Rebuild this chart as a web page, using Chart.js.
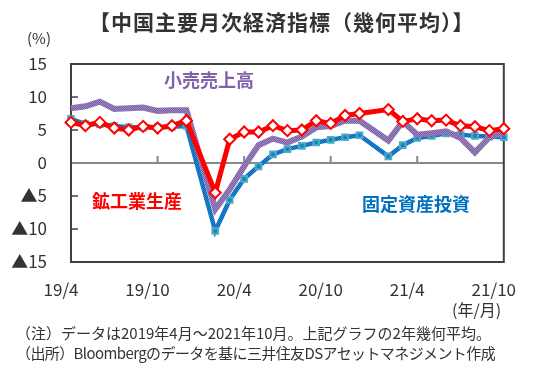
<!DOCTYPE html>
<html><head><meta charset="utf-8">
<script src="https://cdn.jsdelivr.net/npm/chart.js@4/dist/chart.umd.min.js"></script>
<style>
html,body{margin:0;padding:0;background:#fff;}
#wrap{position:relative;width:543px;height:378px;overflow:hidden;font-family:"Noto Sans CJK JP","Noto Sans",sans-serif;color:#333;}
canvas{position:absolute;left:0;top:0;}
.t{position:absolute;white-space:nowrap;line-height:1;}
</style></head><body>
<div id="wrap">
<canvas id="c" width="543" height="378"></canvas>
<div class="t" style="left:89px;top:11px;font-size:21px;letter-spacing:1px;font-weight:bold;color:#333;">【中国主要月次経済指標（幾何平均）】</div>
<div class="t" style="left:27px;top:30px;font-size:15px;">(%)</div>
<div class="t" style="left:164px;top:70px;font-size:18px;font-weight:bold;color:#7F62A8;">小売売上高</div>
<div class="t" style="left:92px;top:191px;font-size:18px;font-weight:bold;color:#FF0000;">鉱工業生産</div>
<div class="t" style="left:362px;top:194px;font-size:18px;font-weight:bold;color:#0070C0;">固定資産投資</div>
<div class="t" style="left:452px;top:301px;font-size:16px;">(年/月)</div>
<div class="t" style="left:16px;top:325px;font-size:15px;">（注）データは2019年4月～2021年10月。上記グラフの2年幾何平均。</div>
<div class="t" style="left:16px;top:345px;font-size:15px;letter-spacing:-0.6px;">（出所）Bloombergのデータを基に三井住友DSアセットマネジメント作成</div>
</div>
<script>
const categories = ["19/4","19/5","19/6","19/7","19/8","19/9","19/10","19/11","19/12",
  "20/1","20/2","20/3","20/4","20/5","20/6","20/7","20/8","20/9","20/10","20/11","20/12",
  "21/1","21/2","21/3","21/4","21/5","21/6","21/7","21/8","21/9","21/10"];
const tickLabels = ["19/4","19/10","20/4","20/10","21/4","21/10"];
const industrialProduction = [6.15,5.65,6.15,5.3,5.0,5.55,5.3,5.65,6.4,
  null,-4.5,3.6,4.7,4.7,5.65,4.9,5.0,6.4,6.0,7.2,7.5,
  null,8.1,6.3,6.7,6.4,6.5,5.65,5.5,4.9,5.2];
const retailSales = [8.3,8.6,9.3,8.2,8.3,8.4,7.9,8.0,8.0,
  null,-7.0,-4.0,-0.5,2.7,3.7,3.1,4.0,5.4,5.6,6.4,6.4,
  null,3.4,6.3,4.3,4.5,4.8,3.8,1.6,3.9,4.6];
const fixedAssetInvestment = [6.7,5.9,5.9,5.6,5.4,5.4,5.4,5.5,5.6,
  null,-10.3,-5.6,-2.4,-0.5,1.3,2.1,2.6,3.1,3.5,3.9,4.2,
  null,1.0,2.7,3.8,4.1,4.5,4.3,4.1,4.0,3.9];

function pattern(a,b){
  const p=document.createElement('canvas');p.width=2;p.height=2;
  const g=p.getContext('2d');
  g.fillStyle=a;g.fillRect(0,0,2,2);
  g.fillStyle=b;g.fillRect(0,0,1,1);g.fillRect(1,1,1,1);
  return g.createPattern(p,'repeat');
}
const purplePat = pattern('#7A5CA2','#A08AC4');
const bluePat = pattern('#0066B8','#2A86CC');

const frame = {
  id:'frame',
  beforeDatasetsDraw(chart){
    const {ctx, chartArea:a, scales:{x,y}} = chart;
    ctx.save();
    const y0 = y.getPixelForValue(0);
    ctx.strokeStyle='#888';ctx.lineWidth=2;
    ctx.beginPath();ctx.moveTo(a.left,y0);ctx.lineTo(a.right,y0);ctx.stroke();
    categories.forEach((c,i)=>{
      if(tickLabels.includes(c) && i>0 && i<categories.length-1){
        const px=x.getPixelForValue(i);
        ctx.beginPath();ctx.moveTo(px,y0);ctx.lineTo(px,y0-7);ctx.stroke();
      }
    });
    ctx.strokeStyle='#404040';ctx.lineWidth=2;
    ctx.strokeRect(a.left,a.top,a.right-a.left,a.bottom-a.top);
    ctx.lineWidth=1.5;
    for(let v=-10; v<=10; v+=5){
      if(v===0) continue;
      const py=y.getPixelForValue(v);
      ctx.beginPath();ctx.moveTo(a.left,py);ctx.lineTo(a.left+7,py);ctx.stroke();
    }
    ctx.restore();
  }
};

new Chart(document.getElementById('c'),{
  type:'line',
  data:{
    labels:categories,
    datasets:[
      {label:'鉱工業生産',data:industrialProduction,borderColor:'#FF0000',borderWidth:5,
       pointStyle:'rectRot',pointRadius:5.5,pointBackgroundColor:'#fff',pointBorderColor:'#FF0000',pointBorderWidth:2,
       spanGaps:true,tension:0,clip:false},
      {label:'小売売上高',data:retailSales,borderColor:purplePat,borderWidth:6,pointRadius:0,
       spanGaps:true,tension:0,clip:false},
      {label:'固定資産投資',data:fixedAssetInvestment,borderColor:bluePat,borderWidth:4.5,
       pointStyle:'rect',pointRadius:4,pointBackgroundColor:'#1F7FC4',pointBorderColor:'#4BACC6',pointBorderWidth:2,
       spanGaps:true,tension:0,clip:false}
    ]
  },
  options:{
    responsive:false,animation:false,
    layout:{padding:{top:64,right:33,bottom:76,left:0}},
    plugins:{legend:{display:false},tooltip:{enabled:false}},
    scales:{
      x:{
        type:'category',offset:false,
        grid:{display:false,drawTicks:false},
        border:{display:false},
        afterFit(s){s.height=40;},
        ticks:{autoSkip:false,maxRotation:0,padding:17,labelOffset:-10,color:'#333',
          font:{family:'"Noto Sans CJK JP"',size:17},
          callback(v,i){const l=categories[i];return tickLabels.includes(l)?l:'';}}
      },
      y:{
        min:-15,max:15,
        grid:{display:false,drawTicks:false},
        border:{display:false},
        afterFit(s){s.width=71;},
        ticks:{stepSize:5,padding:24,color:'#333',
          font:{family:'"Noto Sans CJK JP"',size:17},
          callback(v){return v<0?'▲'+(-v):String(v);}}
      }
    }
  },
  plugins:[frame]
});
</script>
</body></html>
